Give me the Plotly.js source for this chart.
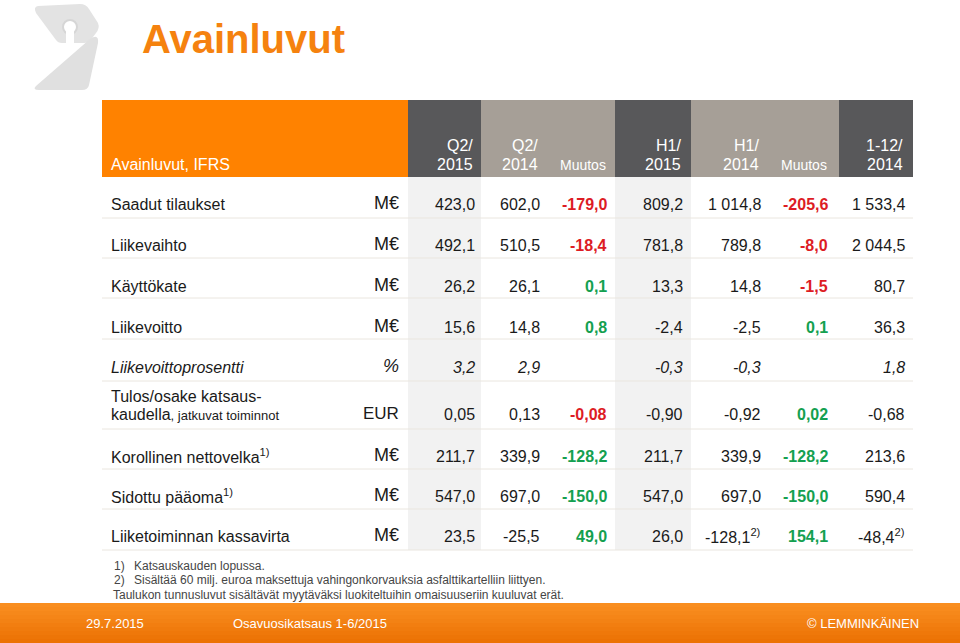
<!DOCTYPE html>
<html>
<head>
<meta charset="utf-8">
<script src="https://cdn.plot.ly/plotly-3.0.1.min.js"></script>
<style>html,body{margin:0;padding:0;background:#fff;}#chart{width:960px;height:643px;}</style>
</head>
<body>
<div id="chart"></div>
<script>
// ---------- DATA ----------
const slideTitle = 'Avainluvut';
const tableTitle = 'Avainluvut, IFRS';
const colHeaders = ['Q2/<br>2015', 'Q2/<br>2014', 'Muutos', 'H1/<br>2015', 'H1/<br>2014', 'Muutos', '1-12/<br>2014'];
const rowLabels = [
  'Saadut tilaukset',
  'Liikevaihto',
  'Käyttökate',
  'Liikevoitto',
  'Liikevoittoprosentti',
  'Tulos/osake katsaus-<br>kaudella<span style="font-size:13px">, jatkuvat toiminnot</span>',
  'Korollinen nettovelka<sup>1)</sup>',
  'Sidottu pääoma<sup>1)</sup>',
  'Liiketoiminnan kassavirta'
];
const units = ['M€', 'M€', 'M€', 'M€', '%', 'EUR', 'M€', 'M€', 'M€'];
const q2_2015 = ['423,0', '492,1', '26,2', '15,6', '3,2', '0,05', '211,7', '547,0', '23,5'];
const q2_2014 = ['602,0', '510,5', '26,1', '14,8', '2,9', '0,13', '339,9', '697,0', '-25,5'];
const q2_change = ['-179,0', '-18,4', '0,1', '0,8', '', '-0,08', '-128,2', '-150,0', '49,0'];
const q2_change_tone = ['bad', 'bad', 'good', 'good', '', 'bad', 'good', 'good', 'good'];
const h1_2015 = ['809,2', '781,8', '13,3', '-2,4', '-0,3', '-0,90', '211,7', '547,0', '26,0'];
const h1_2014 = ['1 014,8', '789,8', '14,8', '-2,5', '-0,3', '-0,92', '339,9', '697,0', '-128,1<sup>2)</sup>'];
const h1_change = ['-205,6', '-8,0', '-1,5', '0,1', '', '0,02', '-128,2', '-150,0', '154,1'];
const h1_change_tone = ['bad', 'bad', 'bad', 'good', '', 'good', 'good', 'good', 'good'];
const fy_2014 = ['1 533,4', '2 044,5', '80,7', '36,3', '1,8', '-0,68', '213,6', '590,4', '-48,4<sup>2)</sup>'];
const italicRows = [false, false, false, false, true, false, false, false, false];
const footnotes = ['1)', 'Katsauskauden lopussa.', '2)', 'Sisältää 60 milj. euroa maksettuja vahingonkorvauksia asfalttikartelliin liittyen.'];
const footnoteNote = 'Taulukon tunnusluvut sisältävät myytäväksi luokiteltuihin omaisuuseriin kuuluvat erät.';
const footerDate = '29.7.2015';
const footerEvent = 'Osavuosikatsaus 1-6/2015';
const footerBrand = '© LEMMINKÄINEN';

// ---------- LAYOUT / STYLE ----------
const FONT = 'Liberation Sans, Arial, sans-serif';
const ORANGE = '#FF8200';
const DARK = '#58585A';
const TAUPE = '#A69F97';
const SHADE = '#F2F2F2';
const RED = '#DD1C24';
const GREEN = '#14A050';
const TXT = '#1A1A1A';
const colEdges = [408, 481, 548, 615, 691, 767, 839, 913];
const colFill = [DARK, TAUPE, TAUPE, DARK, TAUPE, TAUPE, DARK];
const colShade = [true, false, false, true, false, false, false];
const colTextRight = [476, 541, 608, 684, 762, 829, 906];
const headerTop = 100, headerBottom = 177, tableLeft = 102, labelX = 110, unitRight = 400;
const rowY = [204, 245, 286, 327, 367, 405, 456, 496, 536];
const valueY = [204, 245, 286, 327, 367, 414, 456, 496, 536];
const sepY = [218, 258, 298, 339, 381, 429, 469, 509, 550];

const shapes = [];
const annotations = [];
function A(text, x, y, o) {
  o = o || {};
  annotations.push({
    text: text, x: x, y: y, xref: 'x', yref: 'y', showarrow: false,
    xanchor: o.xanchor || 'left', yanchor: 'middle', align: o.xanchor || 'left',
    borderpad: 0,
    font: {family: FONT, size: o.size || 16, color: o.color || TXT, weight: o.bold ? 700 : 400, style: o.italic ? 'italic' : 'normal'}
  });
}
function R(x0, y0, x1, y1, fill) {
  shapes.push({type: 'rect', xref: 'x', yref: 'y', x0: x0, y0: y0, x1: x1, y1: y1, fillcolor: fill, line: {width: 0}, layer: 'below'});
}

// logo (decorative)
shapes.push({type: 'path', xref: 'x', yref: 'y', layer: 'below', fillcolor: '#E3E3E3', line: {width: 0},
  path: 'M 38 6 L 80 4 Q 86 4 89 9 L 98 23 Q 100 28 96 33 L 90 41 Q 88 43 84 43 L 62 43 Q 58 43 56 40 L 36 13 Q 33 7 38 6 Z'});
shapes.push({type: 'circle', xref: 'x', yref: 'y', layer: 'below', fillcolor: '#FFFFFF', line: {color: '#D6D6D6', width: 2}, x0: 63, y0: 20, x1: 77, y1: 34});
R(66, 28, 74, 44, '#FFFFFF');
shapes.push({type: 'path', xref: 'x', yref: 'y', layer: 'below', fillcolor: '#E0E0E0', line: {width: 0},
  path: 'M 36 86 L 90 39 Q 99 33 98 43 L 89 85 Q 88 90 82 90 L 39 90 Q 32 90 36 86 Z'});

// header
R(tableLeft, headerTop, colEdges[0], headerBottom, ORANGE);
for (let c = 0; c < colFill.length; c++) {
  R(colEdges[c], headerTop, colEdges[c + 1], headerBottom, colFill[c]);
  if (colShade[c]) R(colEdges[c], headerBottom, colEdges[c + 1], sepY[sepY.length - 1], SHADE);
}
A(tableTitle, labelX, 164, {color: '#FFFFFF', size: 16});
for (let c = 0; c < colHeaders.length; c++) {
  const lines = colHeaders[c].split('<br>');
  if (lines.length === 1) {
    A(lines[0], colTextRight[c] - 1, 165, {xanchor: 'right', color: '#FFFFFF', size: 14});
  } else {
    A(lines[0], colTextRight[c] - 2, 145, {xanchor: 'right', color: '#FFFFFF', size: 16});
    A(lines[1], colTextRight[c] - 2, 164, {xanchor: 'right', color: '#FFFFFF', size: 16});
  }
}

// separators
sepY.forEach(function (y) {
  shapes.push({type: 'line', xref: 'x', yref: 'y', x0: tableLeft, x1: colEdges[colEdges.length - 1], y0: y, y1: y, line: {color: '#EAE6DF', width: 1}, layer: 'below'});
});

// body
const valueCols = [q2_2015, q2_2014, q2_change, h1_2015, h1_2014, h1_change, fy_2014];
const toneCols = [null, null, q2_change_tone, null, null, h1_change_tone, null];
for (let r = 0; r < rowLabels.length; r++) {
  const it = italicRows[r];
  const lines = rowLabels[r].split('<br>');
  if (lines.length === 1) {
    A(lines[0], labelX, rowY[r], {italic: it});
  } else {
    A(lines[0], labelX, rowY[r] - 9, {italic: it});
    A(lines[1], labelX, rowY[r] + 9, {italic: it});
  }
  A(units[r], unitRight, valueY[r] - 1, {xanchor: 'right', size: units[r] === 'EUR' ? 17 : 18, italic: it});
  for (let c = 0; c < valueCols.length; c++) {
    const v = valueCols[c][r];
    if (!v) continue;
    const tone = toneCols[c] ? toneCols[c][r] : null;
    A(v, colTextRight[c], valueY[r], {
      xanchor: 'right', italic: it, bold: !!tone,
      color: tone === 'bad' ? RED : (tone === 'good' ? GREEN : TXT)
    });
  }
}

// footnotes
A(footnotes[0], 113, 566, {size: 12, color: '#454545'});
A(footnotes[1], 133, 566, {size: 12, color: '#454545'});
A(footnotes[2], 113, 580, {size: 12, color: '#454545'});
A(footnotes[3], 133, 580, {size: 12, color: '#454545'});
A(footnoteNote, 112, 595, {size: 12, color: '#454545'});

// footer gradient bar
const footTop = 603, footBottom = 643;
const gTop = [249, 142, 32], gBot = [236, 114, 4];
const bands = 10;
for (let i = 0; i < bands; i++) {
  const t = i / (bands - 1);
  const col = 'rgb(' + gTop.map(function (v, k) { return Math.round(v + (gBot[k] - v) * t); }).join(',') + ')';
  R(0, footTop + (footBottom - footTop) * i / bands, 960, footTop + (footBottom - footTop) * (i + 1) / bands + 0.5, col);
}
A(footerDate, 85, 623, {size: 13, color: '#FFFFFF'});
A(footerEvent, 232, 623, {size: 13, color: '#FFFFFF'});
A(footerBrand, 920, 623, {size: 13, color: '#FFFFFF', xanchor: 'right'});

// slide title
A(slideTitle, 141, 39, {size: 40, bold: true, color: '#F5820F'});

const layout = {
  width: 960, height: 643,
  margin: {l: 0, r: 0, t: 0, b: 0},
  paper_bgcolor: '#FFFFFF', plot_bgcolor: '#FFFFFF',
  xaxis: {range: [0, 960], visible: false, fixedrange: true},
  yaxis: {range: [643, 0], visible: false, fixedrange: true},
  showlegend: false,
  shapes: shapes,
  annotations: annotations
};
Plotly.newPlot('chart', [], layout, {staticPlot: true, displayModeBar: false});
</script>
</body>
</html>
